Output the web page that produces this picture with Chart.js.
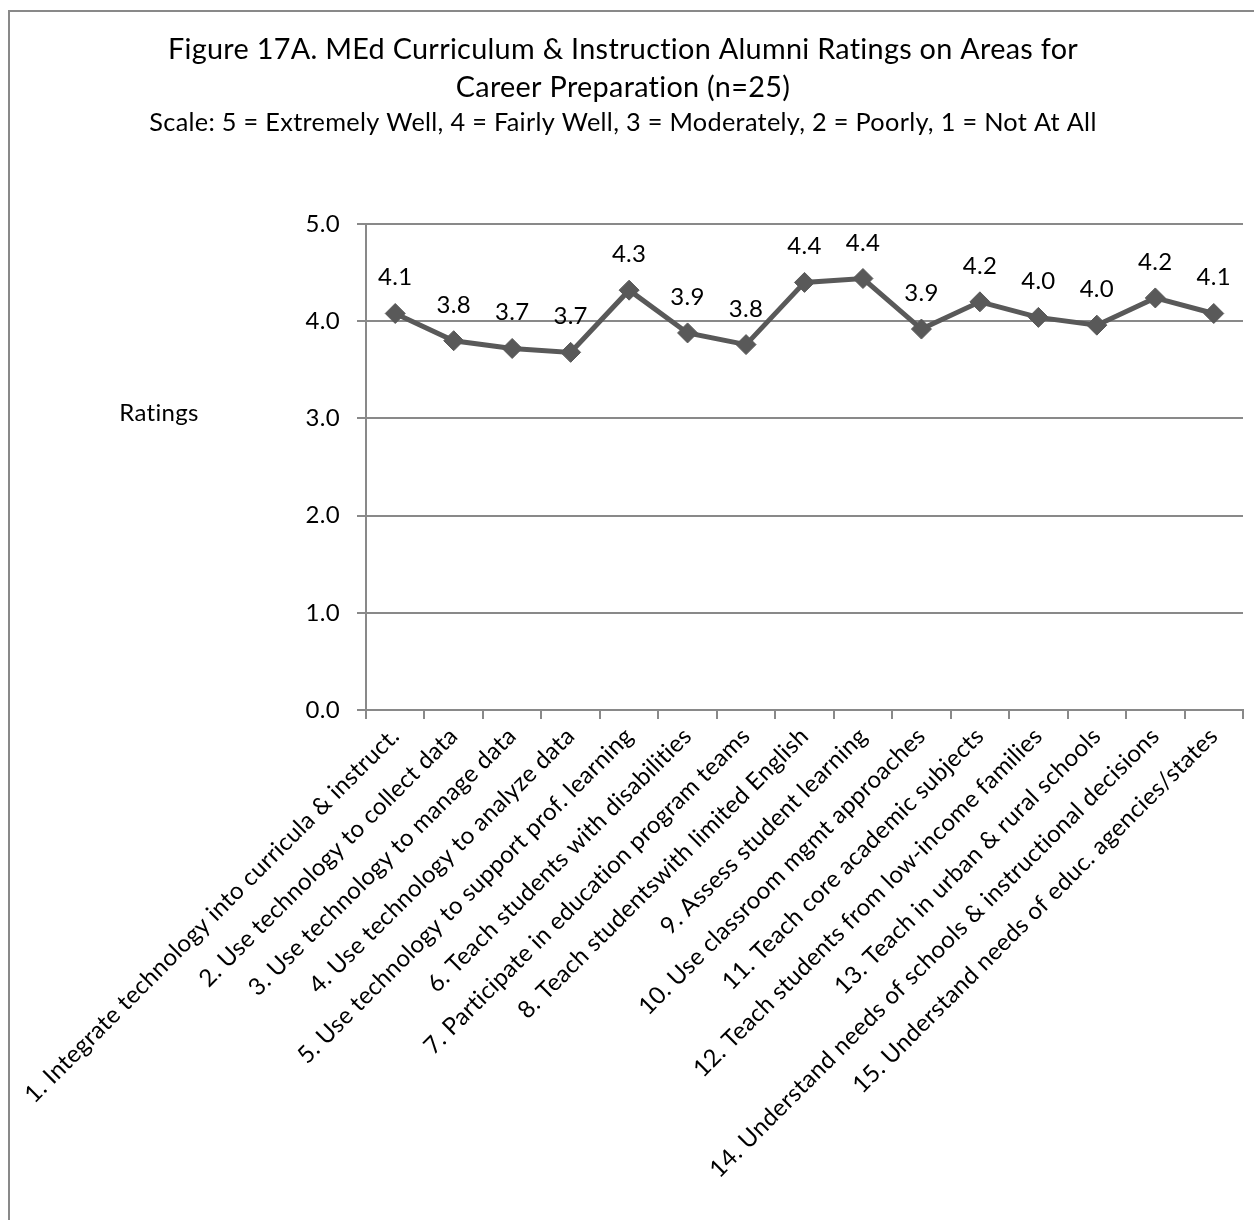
<!DOCTYPE html>
<html>
<head>
<meta charset="utf-8">
<script src="https://cdn.jsdelivr.net/npm/chart.js@4"></script>
<style>
  html, body { margin: 0; padding: 0; background: #fff; overflow: hidden; }
  #wrap { position: absolute; left: 0; top: 0; width: 1254px; height: 1220px; }
  #frame { position: absolute; left: 8px; top: 10px; width: 1400px; height: 1400px;
           border: 2px solid #898989; box-sizing: border-box; }
  canvas { position: absolute; left: 0; top: 0; }
</style>
</head>
<body>
<div id="wrap">
  <div id="frame"></div>
  <canvas id="chart" width="1254" height="1220"></canvas>
</div>
<script>
// Survey areas (x axis categories)
const categories = [
  '1. Integrate technology into curricula & instruct.',
  '2. Use technology to collect data',
  '3. Use technology to manage data',
  '4. Use technology to analyze data',
  '5. Use technology to support prof. learning',
  '6. Teach students with disabilities',
  '7. Participate in education program teams',
  '8. Teach studentswith limited English',
  '9. Assess student learning',
  '10. Use classroom mgmt approaches',
  '11. Teach core academic subjects',
  '12. Teach students from low-income families',
  '13. Teach in urban & rural schools',
  '14. Understand needs of schools & instructional decisions',
  '15. Understand needs of educ. agencies/states'
];

// Mean alumni rating for each area
const ratings = [4.08, 3.80, 3.72, 3.68, 4.32, 3.88, 3.76, 4.40, 4.44, 3.92, 4.20, 4.04, 3.96, 4.24, 4.08];

// Rating scale ticks
const yTicks = [0, 1, 2, 3, 4, 5];

const titleLines = [
  'Figure 17A. MEd Curriculum & Instruction Alumni Ratings on Areas for',
  'Career Preparation (n=25)'
];
const subtitleText = 'Scale: 5 = Extremely Well, 4 = Fairly Well, 3 = Moderately, 2 = Poorly, 1 = Not At All';
const yAxisTitle = 'Ratings';

const FONT = 'Lato, "Open Sans", sans-serif';

// A touch of letter spacing keeps the font from forming ligatures
const textSpacing = {
  id: 'textSpacing',
  beforeDraw(chart) {
    chart.ctx.letterSpacing = '0.3px';
  }
};

// Value labels above each marker
const valueLabels = {
  id: 'valueLabels',
  afterDatasetsDraw(chart) {
    const ctx = chart.ctx;
    const meta = chart.getDatasetMeta(0);
    const values = chart.data.datasets[0].data;
    ctx.save();
    ctx.font = '24px ' + FONT;
    ctx.fillStyle = '#000';
    ctx.textAlign = 'center';
    ctx.textBaseline = 'alphabetic';
    meta.data.forEach((pt, i) => {
      ctx.fillText(values[i].toFixed(1), pt.x, pt.y - 28);
    });
    ctx.restore();
  }
};

// Horizontal axis title to the left of the value axis
const sideTitle = {
  id: 'sideTitle',
  afterDraw(chart) {
    const ctx = chart.ctx;
    const area = chart.chartArea;
    ctx.save();
    ctx.font = '24px ' + FONT;
    ctx.fillStyle = '#000';
    ctx.textAlign = 'center';
    ctx.textBaseline = 'middle';
    ctx.fillText(yAxisTitle, area.left - 207, area.top + 189);
    ctx.restore();
  }
};

new Chart(document.getElementById('chart'), {
  type: 'line',
  data: {
    labels: categories,
    datasets: [{
      data: ratings,
      borderColor: '#595959',
      backgroundColor: '#595959',
      borderWidth: 5,
      pointStyle: 'rectRot',
      pointRadius: 10,
      pointHoverRadius: 10,
      pointBackgroundColor: '#595959',
      pointBorderColor: '#595959',
      pointBorderWidth: 1,
      tension: 0,
      fill: false
    }]
  },
  options: {
    responsive: false,
    animation: false,
    layout: { padding: { left: 0, right: 8, top: 31, bottom: 0 } },
    plugins: {
      legend: { display: false },
      tooltip: { enabled: false },
      title: {
        display: true,
        text: titleLines,
        color: '#000',
        font: { family: FONT, size: 28.8, weight: 'normal', lineHeight: 1.32 },
        padding: { top: 0, bottom: 3 }
      },
      subtitle: {
        display: true,
        text: subtitleText,
        color: '#000',
        font: { family: FONT, size: 25.3, weight: 'normal', lineHeight: 1.03 },
        padding: { top: 0, bottom: 88 }
      }
    },
    scales: {
      x: {
        type: 'category',
        offset: true,
        grid: {
          offset: true,
          display: true,
          drawOnChartArea: false,
          drawTicks: true,
          tickLength: 9,
          color: '#898989',
          lineWidth: 2
        },
        border: { display: true, color: '#898989', width: 2 },
        ticks: {
          autoSkip: false,
          maxRotation: 45,
          minRotation: 45,
          padding: 3,
          color: '#000',
          font: { family: FONT, size: 24 }
        },
        afterFit(scale) { scale.height = 510; }
      },
      y: {
        min: 0,
        max: 5,
        afterBuildTicks(scale) { scale.ticks = yTicks.map(v => ({ value: v })); },
        grid: {
          color: '#898989',
          lineWidth: 2,
          drawTicks: true,
          tickLength: 9
        },
        border: { display: true, color: '#898989', width: 2 },
        ticks: {
          padding: 17,
          color: '#000',
          font: { family: FONT, size: 24 },
          callback: v => Number(v).toFixed(1)
        },
        afterFit(scale) { scale.width = 366; }
      }
    }
  },
  plugins: [textSpacing, valueLabels, sideTitle]
});
</script>
</body>
</html>
